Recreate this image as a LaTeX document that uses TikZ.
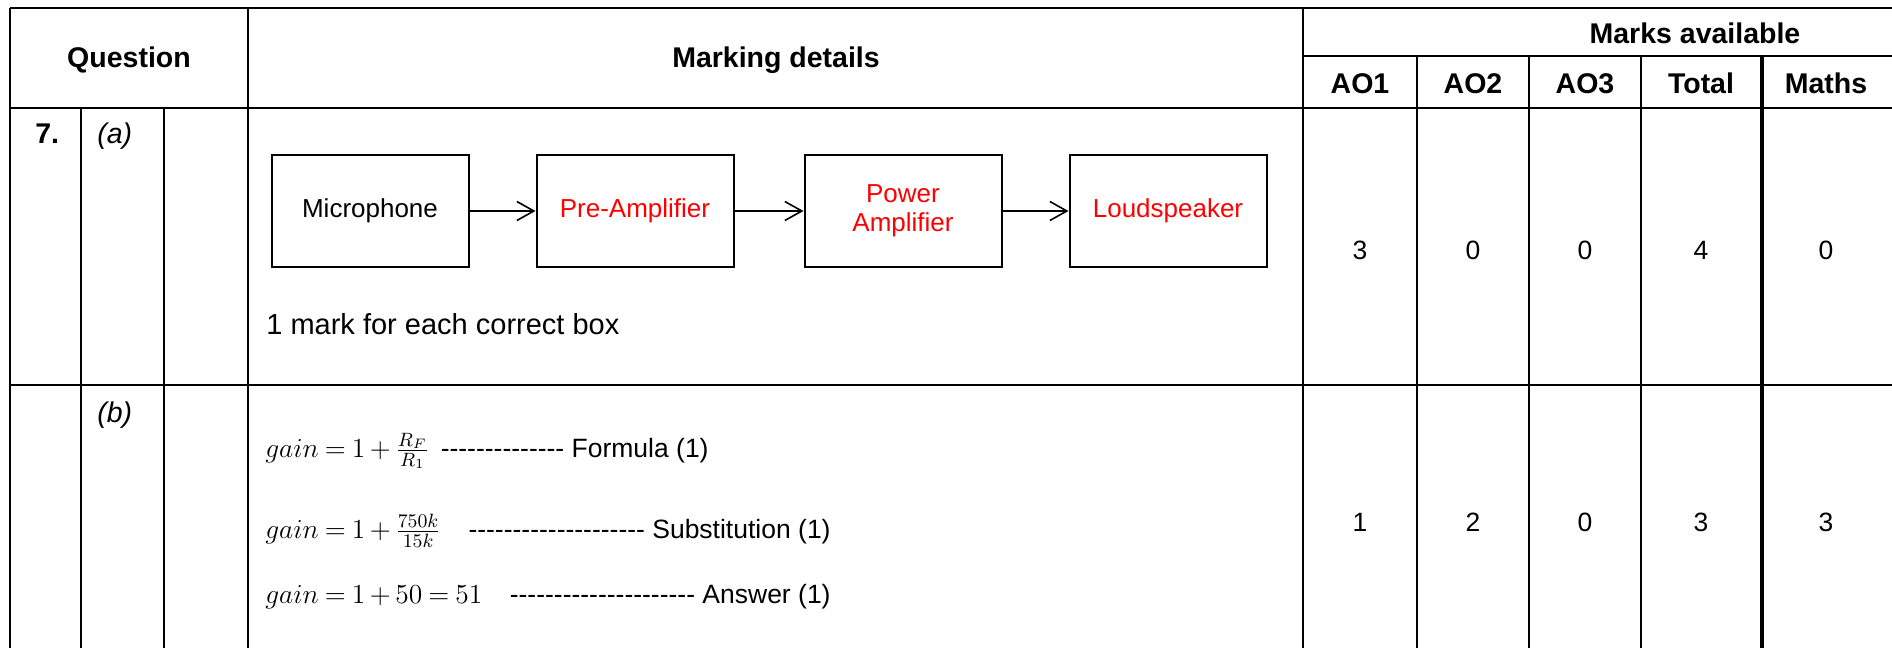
\RequirePackage{fix-cm}
\documentclass[tikz,border=0pt]{standalone}
\usepackage{fontspec}
\setmainfont{Liberation Sans}
\usetikzlibrary{arrows.meta}
\ExplSyntaxOn
\cs_new:Npn \repdash #1 { \prg_replicate:nn {#1} { -\kern0pt\relax } }
\ExplSyntaxOff
\newcommand\eqn[1]{$\thickmuskip=4mu\medmuskip=3mu #1$}
\tikzset{
  rule/.style={line width=1.1pt},
  heavyrule/.style={line width=2pt},
  hdr/.style={font=\fontsize{14.25}{16}\selectfont\bfseries, inner sep=0pt, anchor=base},
  body/.style={font=\fontsize{13.25}{16}\selectfont, inner sep=0pt},
  working/.style={font=\fontsize{13.75}{16}\selectfont, inner sep=0pt, anchor=base west},
  score/.style={font=\fontsize{13.25}{16}\selectfont, inner sep=0pt},
  blockbox/.style={draw, line width=1pt, minimum width=98.5pt, minimum height=56pt,
    inner sep=0pt, align=center, font=\fontsize{13}{14.5}\selectfont},
  answer/.style={text=red},
  flow/.style={line width=0.8pt, -{Straight Barb[length=8.5pt,width=9.5pt]}}
}
\begin{document}
\begin{tikzpicture}[x=0.5pt, y=-0.5pt]
\useasboundingbox (0,0) rectangle (1892,648);

% table rules
\draw[rule] (10,8) -- (1892,8);
\draw[rule] (1303,56) -- (1892,56);
\draw[rule] (10,108) -- (1892,108);
\draw[rule] (10,385) -- (1892,385);
\foreach \x in {10,248,1303} \draw[rule] (\x,8) -- (\x,648);
\foreach \x in {81,164} \draw[rule] (\x,108) -- (\x,648);
\foreach \x in {1417,1529,1641} \draw[rule] (\x,56) -- (\x,648);
\draw[heavyrule] (1762,56) -- (1762,648);

% header
\node[hdr] (hq) at (129,68) {Question};
\node[hdr] (hm) at (776,68) {Marking details};
\node[hdr] (ha) at (1695,43) {Marks available};
\node[hdr] (h1) at (1360,93) {AO1};
\node[hdr] (h2) at (1473,93) {AO2};
\node[hdr] (h3) at (1585,93) {AO3};
\node[hdr] (ht) at (1701,93) {Total};
\node[hdr] (hx) at (1826,93) {Maths};

% question labels
\node[hdr, anchor=base west] (q7) at (35,143) {7.};
\node[body, font=\fontsize{14.25}{16}\selectfont\itshape, anchor=base west] (qa) at (97,143) {(a)};
\node[body, font=\fontsize{14.25}{16}\selectfont\itshape, anchor=base west] (qb) at (97,422) {(b)};

% block diagram
\node[blockbox] (mic) at (370,211) {Microphone};
\node[blockbox, answer] (pre) at (635,211) {Pre-Amplifier};
\node[blockbox, answer] (pwr) at (903,211) {Power\\Amplifier};
\node[blockbox, answer] (spk) at (1168,211) {Loudspeaker};
\draw[flow] (mic) -- (pre);
\draw[flow] (pre) -- (pwr);
\draw[flow] (pwr) -- (spk);

\node[body, font=\fontsize{14.5}{16}\selectfont, anchor=base west] (note) at (266,334) {1 mark for each correct box};

% working for (b)
\node[working] (f1) at (265,457) {\eqn{gain = 1+\frac{R_F}{R_1}}};
\node[body, anchor=base east] (l1) at (709,457) {\repdash{14} Formula (1)};
\node[working] (f2) at (265,538) {\eqn{gain = 1+\frac{750k}{15k}}};
\node[body, anchor=base east] (l2) at (831,538) {\repdash{20} Substitution (1)};
\node[working] (f3) at (265,603) {\eqn{gain = 1+50 = 51}};
\node[body, anchor=base east] (l3) at (831,603) {\repdash{21} Answer (1)};

% marks, part (a)
\node[score] (a1) at (1360,250) {3};
\node[score] (a2) at (1473,250) {0};
\node[score] (a3) at (1585,250) {0};
\node[score] (at) at (1701,250) {4};
\node[score] (ax) at (1826,250) {0};
% marks, part (b)
\node[score] (b1) at (1360,522) {1};
\node[score] (b2) at (1473,522) {2};
\node[score] (b3) at (1585,522) {0};
\node[score] (bt) at (1701,522) {3};
\node[score] (bx) at (1826,522) {3};
\end{tikzpicture}
\end{document}
